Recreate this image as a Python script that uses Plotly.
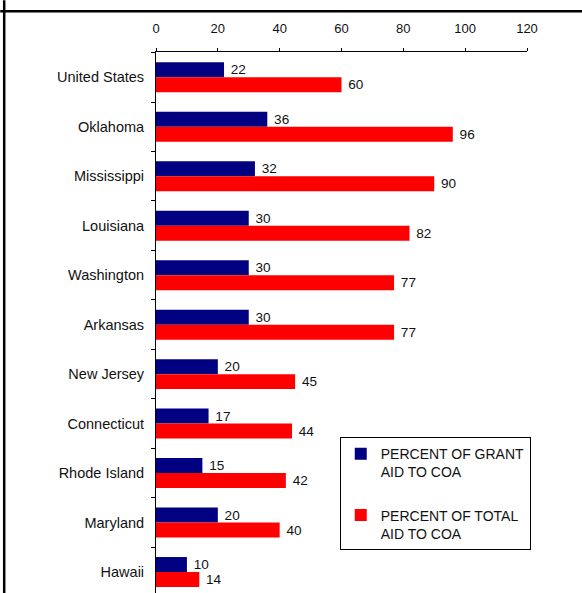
import plotly.graph_objects as go

states = ["United States", "Oklahoma", "Mississippi", "Louisiana", "Washington",
          "Arkansas", "New Jersey", "Connecticut", "Rhode Island", "Maryland", "Hawaii"]
grant_aid = [22, 36, 32, 30, 30, 30, 20, 17, 15, 20, 10]
total_aid = [60, 96, 90, 82, 77, 77, 45, 44, 42, 40, 14]
x_ticks = [0, 20, 40, 60, 80, 100, 120]

FONT = "Liberation Sans, Arial, sans-serif"

W, H = 582, 593
L, R, T, B = 156, 54.5, 51.7, 0
pw = W - L - R
ph = H - T - B

def px_x(p):
    return (p - L) / pw

def px_y(p):
    return (H - B - p) / ph

fig = go.Figure()
fig.add_trace(go.Bar(
    y=states, x=grant_aid, orientation="h", name="PERCENT OF GRANT<br>AID TO COA",
    marker=dict(color="#000080", line=dict(width=0)),
    text=grant_aid, texttemplate=" %{x}", textposition="outside", cliponaxis=False,
    textfont=dict(family=FONT, size=14.5, color="#111"),
    legendgroup="a",
))
fig.add_trace(go.Bar(
    y=states, x=total_aid, orientation="h", name="PERCENT OF TOTAL<br>AID TO COA",
    marker=dict(color="#FF0000", line=dict(width=0)),
    text=total_aid, texttemplate=" %{x}", textposition="outside", cliponaxis=False,
    textfont=dict(family=FONT, size=14.5, color="#111"),
    legendgroup="b",
))

fig.update_layout(
    width=W, height=H,
    margin=dict(l=L, r=R, t=T, b=B, pad=0),
    paper_bgcolor="white", plot_bgcolor="white",
    barmode="group", bargap=0.394, bargroupgap=0,
    font=dict(family=FONT, size=14, color="#111"),
    showlegend=True,
    legend=dict(
        x=px_x(340), y=px_y(437), xanchor="left", yanchor="top",
        bordercolor="black", borderwidth=1, bgcolor="white",
        font=dict(family=FONT, size=14, color="#111"),
        traceorder="grouped", tracegroupgap=22, valign="top",
        itemwidth=30,
    ),
    xaxis=dict(
        side="top", range=[0, 120], tickvals=x_ticks, ticktext=[str(v) for v in x_ticks],
        showgrid=False, zeroline=False, showline=True, linecolor="black", linewidth=1,
        ticks="outside", ticklen=3, tickcolor="black",
        tickfont=dict(family=FONT, size=13, color="#111"),
        ticklabelstandoff=10,
    ),
    yaxis=dict(
        type="category", range=[10.424, -0.511],
        showgrid=False, zeroline=False, showline=True, linecolor="black", linewidth=1,
        ticks="outside", ticklen=4, tickcolor="black", tickson="boundaries",
        tickfont=dict(family=FONT, size=14.5, color="#111"),
        ticklabelstandoff=8,
    ),
    shapes=[
        dict(type="line", xref="paper", yref="paper",
             x0=px_x(4), x1=px_x(4), y0=px_y(0), y1=px_y(H + 5),
             line=dict(color="black", width=2.5)),
        dict(type="line", xref="paper", yref="paper",
             x0=px_x(0), x1=px_x(W + 5), y0=px_y(11), y1=px_y(11),
             line=dict(color="black", width=2.5)),
    ],
)

fig.write_html("out.html", config={"displayModeBar": False},
               post_script="document.body.style.margin='0';")
